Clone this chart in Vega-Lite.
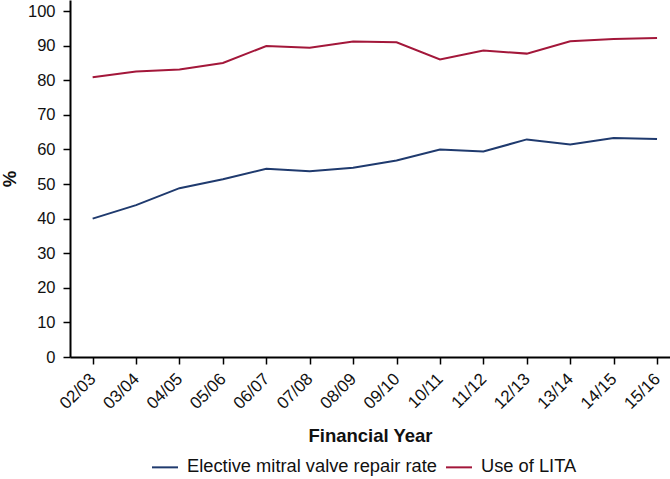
{
  "$schema": "https://vega.github.io/schema/vega-lite/v6.json",
  "width": 600,
  "height": 357,
  "autosize": "none",
  "padding": {"left": 70, "top": 0, "right": 0, "bottom": 122},
  "background": "white",
  "config": {
    "font": "Liberation Sans",
    "view": {"stroke": null},
    "axis": {"grid": false, "domainColor": "#000", "tickColor": "#000", "labelColor": "#111", "titleColor": "#111"}
  },
  "data": {
    "values": [
      {"year": "02/03", "series": "Elective mitral valve repair rate", "value": 40.0},
      {"year": "03/04", "series": "Elective mitral valve repair rate", "value": 43.9},
      {"year": "04/05", "series": "Elective mitral valve repair rate", "value": 48.8},
      {"year": "05/06", "series": "Elective mitral valve repair rate", "value": 51.4},
      {"year": "06/07", "series": "Elective mitral valve repair rate", "value": 54.4},
      {"year": "07/08", "series": "Elective mitral valve repair rate", "value": 53.7},
      {"year": "08/09", "series": "Elective mitral valve repair rate", "value": 54.7},
      {"year": "09/10", "series": "Elective mitral valve repair rate", "value": 56.8},
      {"year": "10/11", "series": "Elective mitral valve repair rate", "value": 60.0},
      {"year": "11/12", "series": "Elective mitral valve repair rate", "value": 59.4},
      {"year": "12/13", "series": "Elective mitral valve repair rate", "value": 62.9},
      {"year": "13/14", "series": "Elective mitral valve repair rate", "value": 61.4},
      {"year": "14/15", "series": "Elective mitral valve repair rate", "value": 63.3},
      {"year": "15/16", "series": "Elective mitral valve repair rate", "value": 63.0},
      {"year": "02/03", "series": "Use of LITA", "value": 80.9},
      {"year": "03/04", "series": "Use of LITA", "value": 82.5},
      {"year": "04/05", "series": "Use of LITA", "value": 83.1},
      {"year": "05/06", "series": "Use of LITA", "value": 85.0},
      {"year": "06/07", "series": "Use of LITA", "value": 89.9},
      {"year": "07/08", "series": "Use of LITA", "value": 89.4},
      {"year": "08/09", "series": "Use of LITA", "value": 91.2},
      {"year": "09/10", "series": "Use of LITA", "value": 91.0},
      {"year": "10/11", "series": "Use of LITA", "value": 86.0},
      {"year": "11/12", "series": "Use of LITA", "value": 88.6},
      {"year": "12/13", "series": "Use of LITA", "value": 87.7},
      {"year": "13/14", "series": "Use of LITA", "value": 91.3},
      {"year": "14/15", "series": "Use of LITA", "value": 91.9},
      {"year": "15/16", "series": "Use of LITA", "value": 92.2}
    ]
  },
  "mark": {"type": "line", "strokeWidth": 2},
  "encoding": {
    "x": {
      "field": "year", "type": "ordinal", "sort": null,
      "scale": {"type": "point", "padding": 0.41, "align": 0.636},
      "axis": {
        "title": "Financial Year", "labelAngle": -45, "labelAlign": "right", "labelBaseline": "middle",
        "labelFontSize": 17, "titleFontSize": 18.5, "titleFontWeight": "bold",
        "tickSize": 7, "tickWidth": 1.5, "domainWidth": 2, "labelPadding": 12, "titlePadding": 15
      }
    },
    "y": {
      "field": "value", "type": "quantitative",
      "scale": {"domain": [0, 103.2], "nice": false, "zero": true},
      "axis": {
        "title": "%", "values": [0, 10, 20, 30, 40, 50, 60, 70, 80, 90, 100],
        "labelFontSize": 16.5, "titleFontSize": 18.5, "titleFontWeight": "bold",
        "tickSize": 7, "tickWidth": 1.5, "domainWidth": 2, "labelPadding": 8, "titlePadding": 8
      }
    },
    "color": {
      "field": "series", "type": "nominal",
      "scale": {"domain": ["Elective mitral valve repair rate", "Use of LITA"], "range": ["#1f3a6e", "#a3173a"]},
      "legend": {
        "title": null, "orient": "none", "legendX": 81, "legendY": 453, "direction": "horizontal",
        "symbolType": "stroke", "symbolSize": 676, "symbolStrokeWidth": 2,
        "labelFontSize": 18.3, "labelColor": "#111", "labelLimit": 0, "columnPadding": 5, "labelOffset": 8
      }
    }
  }
}
